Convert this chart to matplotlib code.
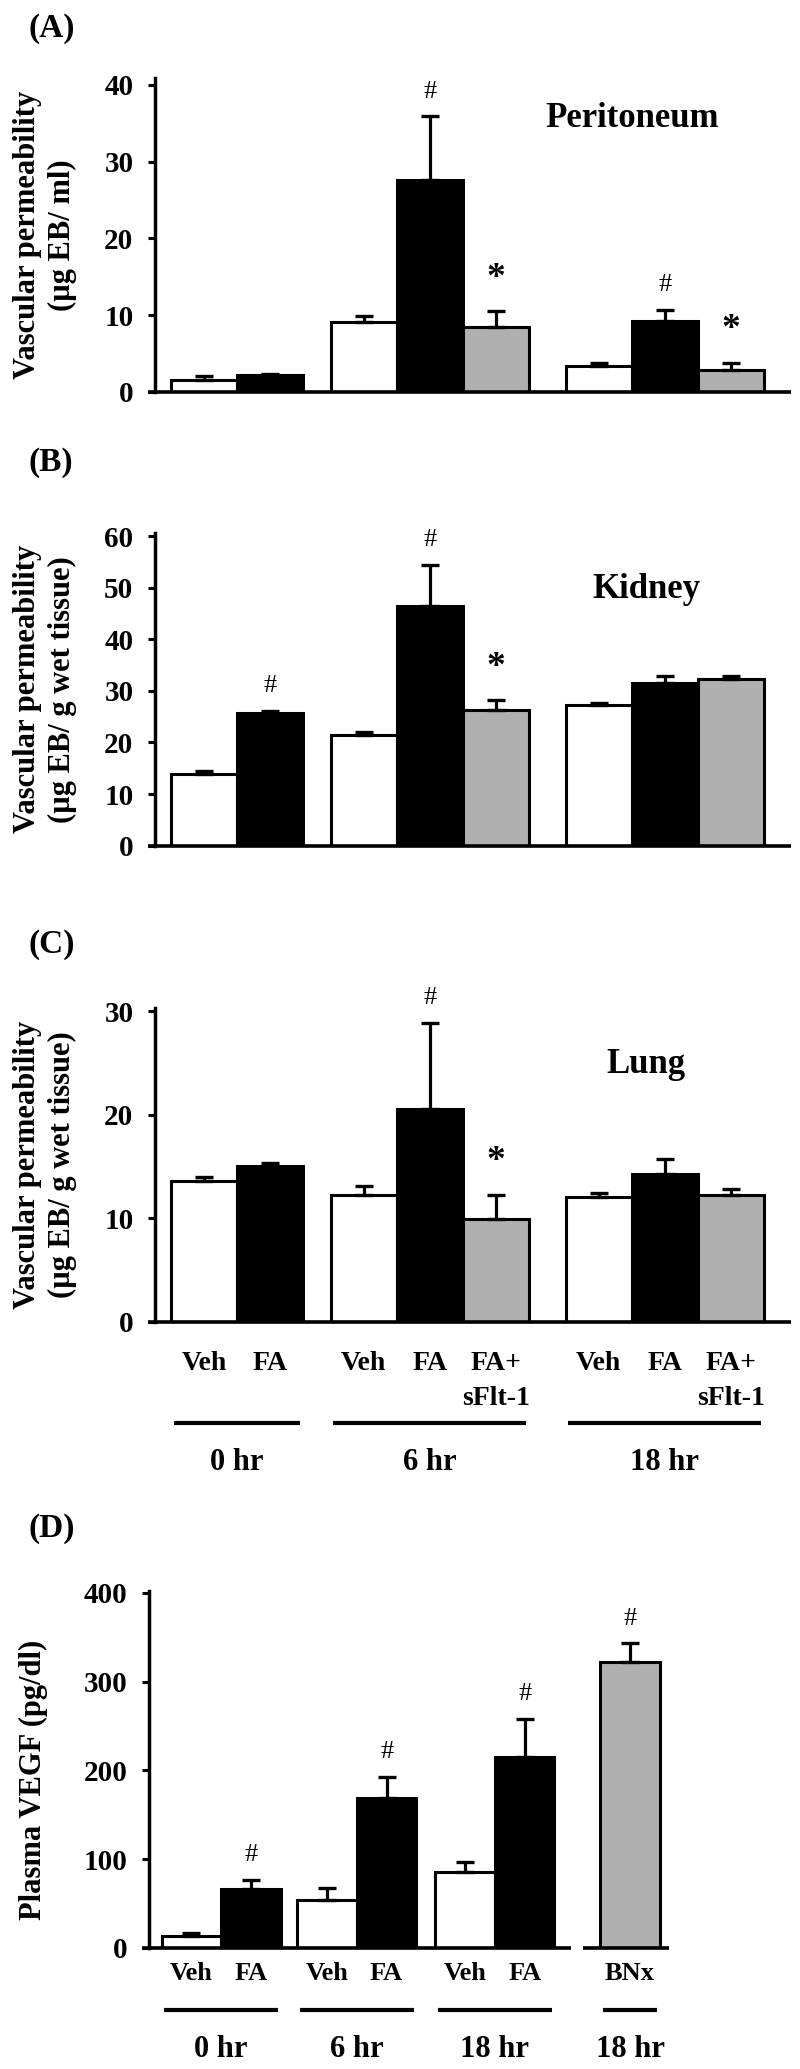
import matplotlib
matplotlib.use('Agg')
import matplotlib.pyplot as plt
import numpy as np
from matplotlib.transforms import blended_transform_factory, offset_copy

plt.rcParams['font.family'] = ['Liberation Serif', 'DejaVu Serif']
plt.rcParams['font.weight'] = 'bold'

# ---------------- data ----------------
abc_treatments = ['Veh', 'FA', 'Veh', 'FA', 'FA+\nsFlt-1', 'Veh', 'FA', 'FA+\nsFlt-1']
abc_group_ids = [0, 0, 1, 1, 1, 2, 2, 2]
abc_group_labels = ['0 hr', '6 hr', '18 hr']

peritoneum_mean = [1.6, 2.2, 9.1, 27.6, 8.5, 3.4, 9.3, 2.9]
peritoneum_sem = [0.5, 0.2, 0.8, 8.3, 2.0, 0.4, 1.4, 0.9]
peritoneum_sig = ['', '', '', '#', '*', '', '#', '*']

kidney_mean = [13.9, 25.8, 21.4, 46.4, 26.3, 27.3, 31.6, 32.3]
kidney_sem = [0.6, 0.3, 0.6, 8.0, 1.9, 0.3, 1.3, 0.6]
kidney_sig = ['', '#', '', '#', '*', '', '', '']

lung_mean = [13.6, 15.05, 12.3, 20.6, 9.95, 12.1, 14.3, 12.3]
lung_sem = [0.4, 0.25, 0.85, 8.3, 2.35, 0.3, 1.4, 0.5]
lung_sig = ['', '', '', '#', '*', '', '', '']

vegf_treatments = ['Veh', 'FA', 'Veh', 'FA', 'Veh', 'FA', 'BNx']
vegf_group_ids = [0, 0, 1, 1, 2, 2, 3]
vegf_group_labels = ['0 hr', '6 hr', '18 hr', '18 hr']
vegf_mean = [13.3, 66.6, 53.7, 169.4, 85.6, 215.0, 322.0]
vegf_sem = [3.1, 9.9, 14.0, 23.2, 11.8, 43.0, 21.0]
vegf_sig = ['', '#', '', '#', '', '#', '#']

# ---------------- styles ----------------
FILL = {'Veh': 'white', 'FA': 'black', 'FA+\nsFlt-1': '#b0b0b0', 'BNx': '#b0b0b0'}
W, H = 800, 2069
fig = plt.figure(figsize=(W / 100, H / 100), dpi=100)
PX = 0.72  # points per pixel


def positions(group_ids, gaps):
    xs, x = [], 0.0
    for i, g in enumerate(group_ids):
        if i > 0:
            x += 1.0 + (gaps[g - 1] if g != group_ids[i - 1] else 0.0)
        xs.append(x)
    return np.array(xs)


def make_axes(left, right, y0, ytop, xlim, ylim, yticks):
    ax = fig.add_axes([left / W, (H - y0) / H, (right - left) / W, (y0 - ytop) / H])
    ax.set_xlim(*xlim)
    ax.set_ylim(*ylim)
    ax.set_yticks(yticks)
    ax.set_xticks([])
    for s in ['top', 'right', 'bottom']:
        ax.spines[s].set_visible(False)
    ax.spines['left'].set_linewidth(2.5)
    ax.tick_params(axis='y', direction='out', length=5, width=2.2,
                   labelsize=21, pad=10.5)
    for lab in ax.get_yticklabels():
        lab.set_fontweight('bold')
    ax.patch.set_alpha(0)
    return ax


def draw_bars(ax, xs, treatments, mean, sem, sig, break_at=None):
    fills = [FILL[t] for t in treatments]
    ax.bar(xs, mean, width=1.0, color=fills, edgecolor='black',
           linewidth=2.2, zorder=2)
    ax.errorbar(xs, mean, yerr=[np.zeros(len(mean)), sem], fmt='none',
                ecolor='black', elinewidth=2.3, capsize=6.6, capthick=2.4,
                zorder=3)
    for x, m, e, s in zip(xs, mean, sem, sig):
        if s == '#':
            ax.annotate(s, xy=(x, m + e), xytext=(0, 13.5), textcoords='offset points',
                        ha='center', va='baseline', fontsize=19, fontweight='normal')
        elif s == '*':
            ax.annotate(s, xy=(x, m + e), xytext=(0, 17), textcoords='offset points',
                        ha='center', va='baseline', fontsize=27, fontweight='bold')
    # x axis line (optionally broken)
    trans = blended_transform_factory(ax.transData, ax.transAxes)
    x0, x1 = ax.get_xlim()
    tick = 7 / (ax.bbox.width / (x1 - x0))
    segs = [(x0 - tick, x1)] if break_at is None else \
        [(x0 - tick, break_at - 0.1), (break_at + 0.1, x1)]
    for a, b in segs:
        ax.plot([a, b], [0, 0], color='black', lw=2.6, transform=trans,
                clip_on=False, solid_capstyle='butt', zorder=4)


def draw_xlabels(ax, xs, treatments, group_ids, group_labels,
                 lab_px, line_gap_px, uline_px, grp_px, fs_lab, fs_grp):
    trans = blended_transform_factory(ax.transData, ax.transAxes)
    for x, t in zip(xs, treatments):
        for k, line in enumerate(t.split('\n')):
            ax.annotate(line, xy=(x, 0), xycoords=trans,
                        xytext=(0, -(lab_px + k * line_gap_px) * PX),
                        textcoords='offset points', ha='center', va='baseline',
                        fontsize=fs_lab, fontweight='bold', annotation_clip=False)
    ul_trans = offset_copy(trans, fig=fig, x=0, y=-uline_px * PX, units='points')
    gids = np.array(group_ids)
    for g, lab in enumerate(group_labels):
        gx = xs[gids == g]
        ax.plot([gx.min() - 0.46, gx.max() + 0.46], [0, 0], color='black', lw=3.0,
                transform=ul_trans, clip_on=False, solid_capstyle='butt')
        ax.annotate(lab, xy=((gx.min() + gx.max()) / 2, 0), xycoords=trans,
                    xytext=(0, -grp_px * PX), textcoords='offset points',
                    ha='center', va='baseline', fontsize=fs_grp, fontweight='bold',
                    annotation_clip=False)


def ylabel(text, xpx, ycen, size=22):
    fig.text(xpx / W, 1 - ycen / H, text, rotation=90, ha='center',
             va='center', multialignment='center', fontsize=size,
             fontweight='bold', linespacing=1.25)


def panel_letter(text, ypx):
    fig.text(29 / W, 1 - ypx / H, text, ha='left', va='center', fontsize=24,
             fontweight='bold')


# ---------------- panels A-C ----------------
xs_abc = positions(abc_group_ids, [0.42, 0.56])
xlim_abc = (-0.742, 8.894)

panels = [
    ('(A)', 28, 392, 78, (0, 40.9), [0, 10, 20, 30, 40], peritoneum_mean, peritoneum_sem,
     peritoneum_sig, 'Vascular permeability\n(µg EB/ ml)', 'Peritoneum', 0.750, 0.845),
    ('(B)', 463, 845.7, 533, (0, 60.6), [0, 10, 20, 30, 40, 50, 60], kidney_mean, kidney_sem,
     kidney_sig, 'Vascular permeability\n(µg EB/ g wet tissue)', 'Kidney', 0.772, 0.793),
    ('(C)', 945, 1322, 1008, (0, 30.3), [0, 10, 20, 30], lung_mean, lung_sem,
     lung_sig, 'Vascular permeability\n(µg EB/ g wet tissue)', 'Lung', 0.772, 0.794),
]

axes = []
for letter, ly, y0, ytop, ylim, yt, m, e, s, ylab, title, tx, ty in panels:
    ax = make_axes(155, 791, y0, ytop, xlim_abc, ylim, yt)
    draw_bars(ax, xs_abc, abc_treatments, m, e, s)
    ax.text(tx, ty, title, transform=ax.transAxes, ha='center', va='baseline',
            fontsize=25, fontweight='bold')
    ylabel(ylab, 45, (y0 + ytop) / 2)
    panel_letter(letter, ly)
    axes.append(ax)

draw_xlabels(axes[2], xs_abc, abc_treatments, abc_group_ids, abc_group_labels,
             lab_px=48, line_gap_px=35, uline_px=101, grp_px=148, fs_lab=20, fs_grp=22)

# ---------------- panel D ----------------
xs_d = positions(vegf_group_ids, [0.28, 0.32, 0.77])
axd = make_axes(149, 669, 1948, 1591, (-0.714, 8.025), (0, 402), [0, 100, 200, 300, 400])
brk = ((xs_d[-2] + 0.5) + (xs_d[-1] - 0.5)) / 2
draw_bars(axd, xs_d, vegf_treatments, vegf_mean, vegf_sem, vegf_sig, break_at=brk)
draw_xlabels(axd, xs_d, vegf_treatments, vegf_group_ids, vegf_group_labels,
             lab_px=32, line_gap_px=35, uline_px=62, grp_px=109, fs_lab=19, fs_grp=22)
ylabel('Plasma VEGF (pg/dl)', 33, 1780)
panel_letter('(D)', 1529)

fig.savefig('out.png', dpi=100)
